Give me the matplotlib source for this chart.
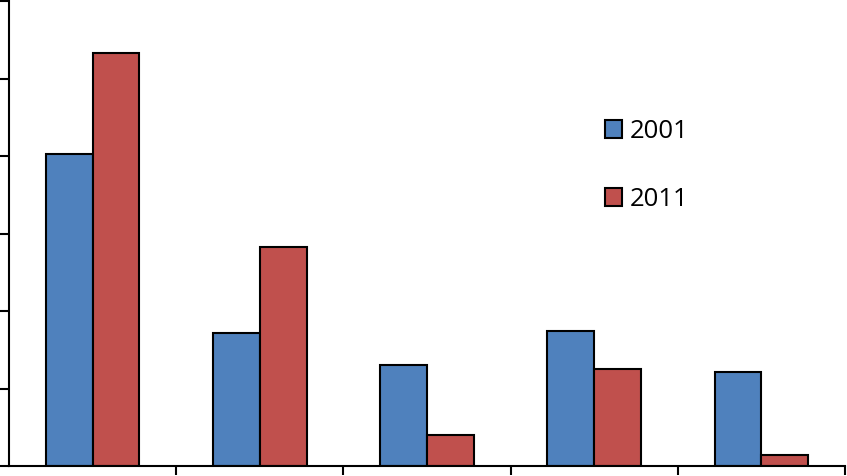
import matplotlib
matplotlib.use("Agg")
import matplotlib.pyplot as plt
import numpy as np

# Category labels are not shown on the chart
categories = ["A", "B", "C", "D", "E"]
values_2001 = [4.02, 1.71, 1.30, 1.74, 1.21]
values_2011 = [5.33, 2.83, 0.40, 1.25, 0.14]
series_labels = ["2001", "2011"]

W, H = 847, 476
fig = plt.figure(figsize=(W / 100, H / 100), dpi=100)
ax = fig.add_axes([9 / W, 10 / H, 836 / W, 465 / H])

x = np.arange(len(categories))
bw = 0.28
ax.bar(x - bw / 2, values_2001, bw, color="#4F81BD", edgecolor="black",
       linewidth=1.5, label=series_labels[0])
ax.bar(x + bw / 2, values_2011, bw, color="#C0504D", edgecolor="black",
       linewidth=1.5, label=series_labels[1])

ax.set_xlim(-0.5, len(categories) - 0.5)
ax.set_ylim(0, 6)

ax.set_xticks(np.append(x[:-1] + 0.5, len(categories) - 0.5))
ax.set_yticks(np.arange(0, 7, 1))
ax.set_xticklabels([])
ax.set_yticklabels([])
ax.tick_params(direction="out", length=6.5, width=1.5, color="black")
for t in ax.xaxis.get_major_ticks() + ax.yaxis.get_major_ticks():
    t.tick1line.set_clip_on(False)

for side in ("top", "right"):
    ax.spines[side].set_visible(False)
for side in ("left", "bottom"):
    ax.spines[side].set_linewidth(1.5)

ax.legend(loc="center left", bbox_to_anchor=(605 / W, 1 - 165.5 / H),
          bbox_transform=fig.transFigure, frameon=False,
          prop={"family": "Open Sans", "size": 18.5},
          borderpad=0, borderaxespad=0, handlelength=0.66,
          handleheight=0.73, handletextpad=0.32, labelspacing=1.68)

fig.savefig("out.png", dpi=100)
